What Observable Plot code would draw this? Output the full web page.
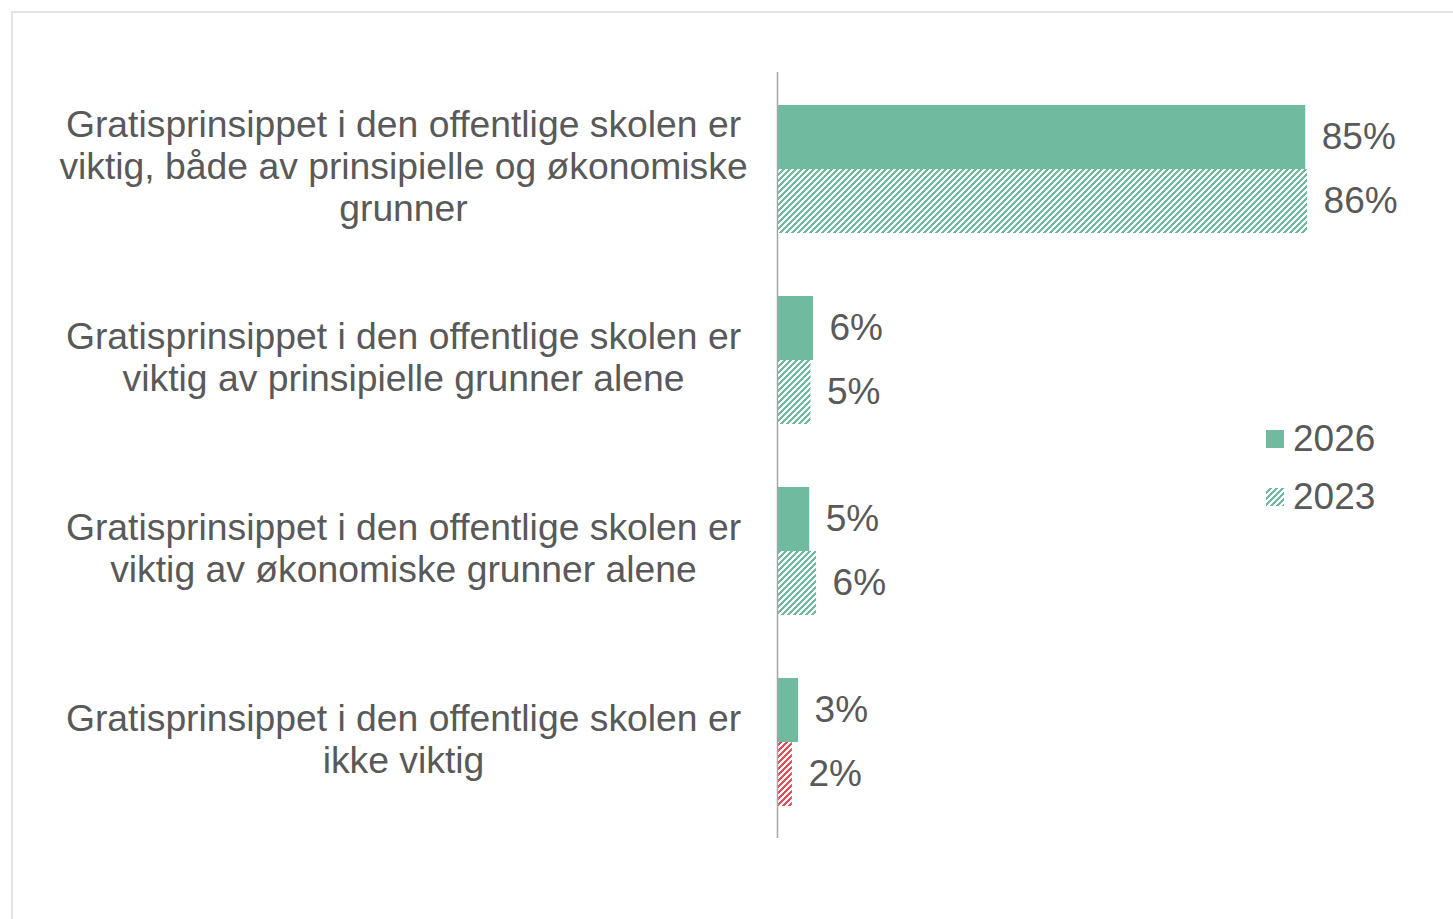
<!DOCTYPE html>
<html>
<head>
<meta charset="utf-8">
<script src="https://cdn.jsdelivr.net/npm/d3@7"></script>
<script src="https://cdn.jsdelivr.net/npm/@observablehq/plot@0.6"></script>
<style>
  html, body { margin: 0; padding: 0; background: #fff; overflow: hidden; }
  body { width: 1453px; height: 919px; position: relative; font-family: "Liberation Sans", Arial, sans-serif; }
  #frame { position: absolute; left: 11px; top: 11px; width: 1500px; height: 1000px; border-left: 2px solid #e4e4e4; border-top: 2px solid #e4e4e4; box-sizing: border-box; }
  #chart { position: absolute; left: 0; top: 0; }
  #legend { position: absolute; left: 1266px; top: 410px; color: #595959; font-size: 37px; line-height: 58px; }
  #legend .item { display: flex; align-items: center; }
  #legend svg { margin-right: 9px; }
</style>
</head>
<body>
<svg width="0" height="0" style="position:absolute">
  <defs>
    <g id="stairs" shape-rendering="crispEdges">
      <rect x="3" y="0" width="3" height="1"></rect>
      <rect x="2" y="1" width="3" height="1"></rect>
      <rect x="1" y="2" width="3" height="1"></rect>
      <rect x="0" y="3" width="3" height="1"></rect>
      <rect x="0" y="4" width="2" height="1"></rect>
      <rect x="5" y="4" width="1" height="1"></rect>
      <rect x="0" y="5" width="1" height="1"></rect>
      <rect x="4" y="5" width="2" height="1"></rect>
    </g>
    <pattern id="hatch-teal" patternUnits="userSpaceOnUse" x="0" y="0" width="6" height="6">
      <use href="#stairs" fill="#70BA9F"></use>
    </pattern>
    <pattern id="hatch-red" patternUnits="userSpaceOnUse" x="0" y="0" width="6" height="6">
      <use href="#stairs" fill="#E84C57"></use>
    </pattern>
  </defs>
</svg>
<div id="frame"></div>
<div id="chart"></div>
<div id="legend"></div>
<script>
const categories = [
  "Gratisprinsippet i den offentlige skolen er\nviktig, både av prinsipielle og økonomiske\ngrunner",
  "Gratisprinsippet i den offentlige skolen er\nviktig av prinsipielle grunner alene",
  "Gratisprinsippet i den offentlige skolen er\nviktig av økonomiske grunner alene",
  "Gratisprinsippet i den offentlige skolen er\nikke viktig"
];
const years = ["2026", "2023"];
const values2026 = [85.2, 5.8, 5.2, 3.4];
const values2023 = [85.5, 5.4, 6.3, 2.4];

const TEAL = "#70BA9F";
const TEXT = "#595959";

const data2026 = categories.map((c, i) => ({category: c, year: years[0], value: values2026[i]}));
const data2023 = categories.map((c, i) => ({category: c, year: years[1], value: values2023[i]}));

const marginTop = 72, marginBottom = 81;
const height = 919;
const padInner = 0.332, padOuter = padInner / 2;
const step = (height - marginTop - marginBottom) / categories.length;
const half = step * (1 - padInner) / 2;

const plot = Plot.plot({
  width: 1453,
  height,
  marginLeft: 777,
  marginRight: 56,
  marginTop,
  marginBottom,
  style: {fontFamily: '"Liberation Sans", Arial, sans-serif', color: TEXT, background: "transparent"},
  x: {domain: [0, 100], axis: null},
  y: {domain: categories, paddingInner: padInner, paddingOuter: padOuter, label: null},
  color: {type: "identity"},
  marks: [
    Plot.barX(data2026, {x: "value", y: "category", fill: TEAL, insetTop: 0, insetBottom: half}),
    Plot.barX(data2023, {
      x: "value", y: "category",
      fill: d => d.category === categories[categories.length - 1] ? "url(#hatch-red)" : "url(#hatch-teal)",
      insetTop: half, insetBottom: 0
    }),
    Plot.ruleX([0], {stroke: "#a6a6a6", strokeWidth: 1.5}),
    Plot.axisY({
      tickSize: 0, tickPadding: 374, textAnchor: "middle", dy: -4,
      fontSize: 37.3, lineHeight: 1.13, fill: TEXT, label: null
    }),
    Plot.text(data2026, {x: "value", y: "category", text: d => Math.round(d.value) + "%", dx: 16, dy: -half / 2, textAnchor: "start", fontSize: 37, fill: TEXT}),
    Plot.text(data2023, {x: "value", y: "category", text: d => Math.round(d.value) + "%", dx: 16, dy: half / 2, textAnchor: "start", fontSize: 37, fill: TEXT})
  ]
});
document.getElementById("chart").appendChild(plot);

const legend = document.getElementById("legend");
const legendFills = [TEAL, "url(#hatch-teal)"];
years.forEach((y, i) => {
  const item = document.createElement("div");
  item.className = "item";
  item.innerHTML = `<svg width="18" height="18"><rect width="18" height="18" fill="${legendFills[i]}"></rect></svg><span>${y}</span>`;
  legend.appendChild(item);
});
</script>
</body>
</html>
